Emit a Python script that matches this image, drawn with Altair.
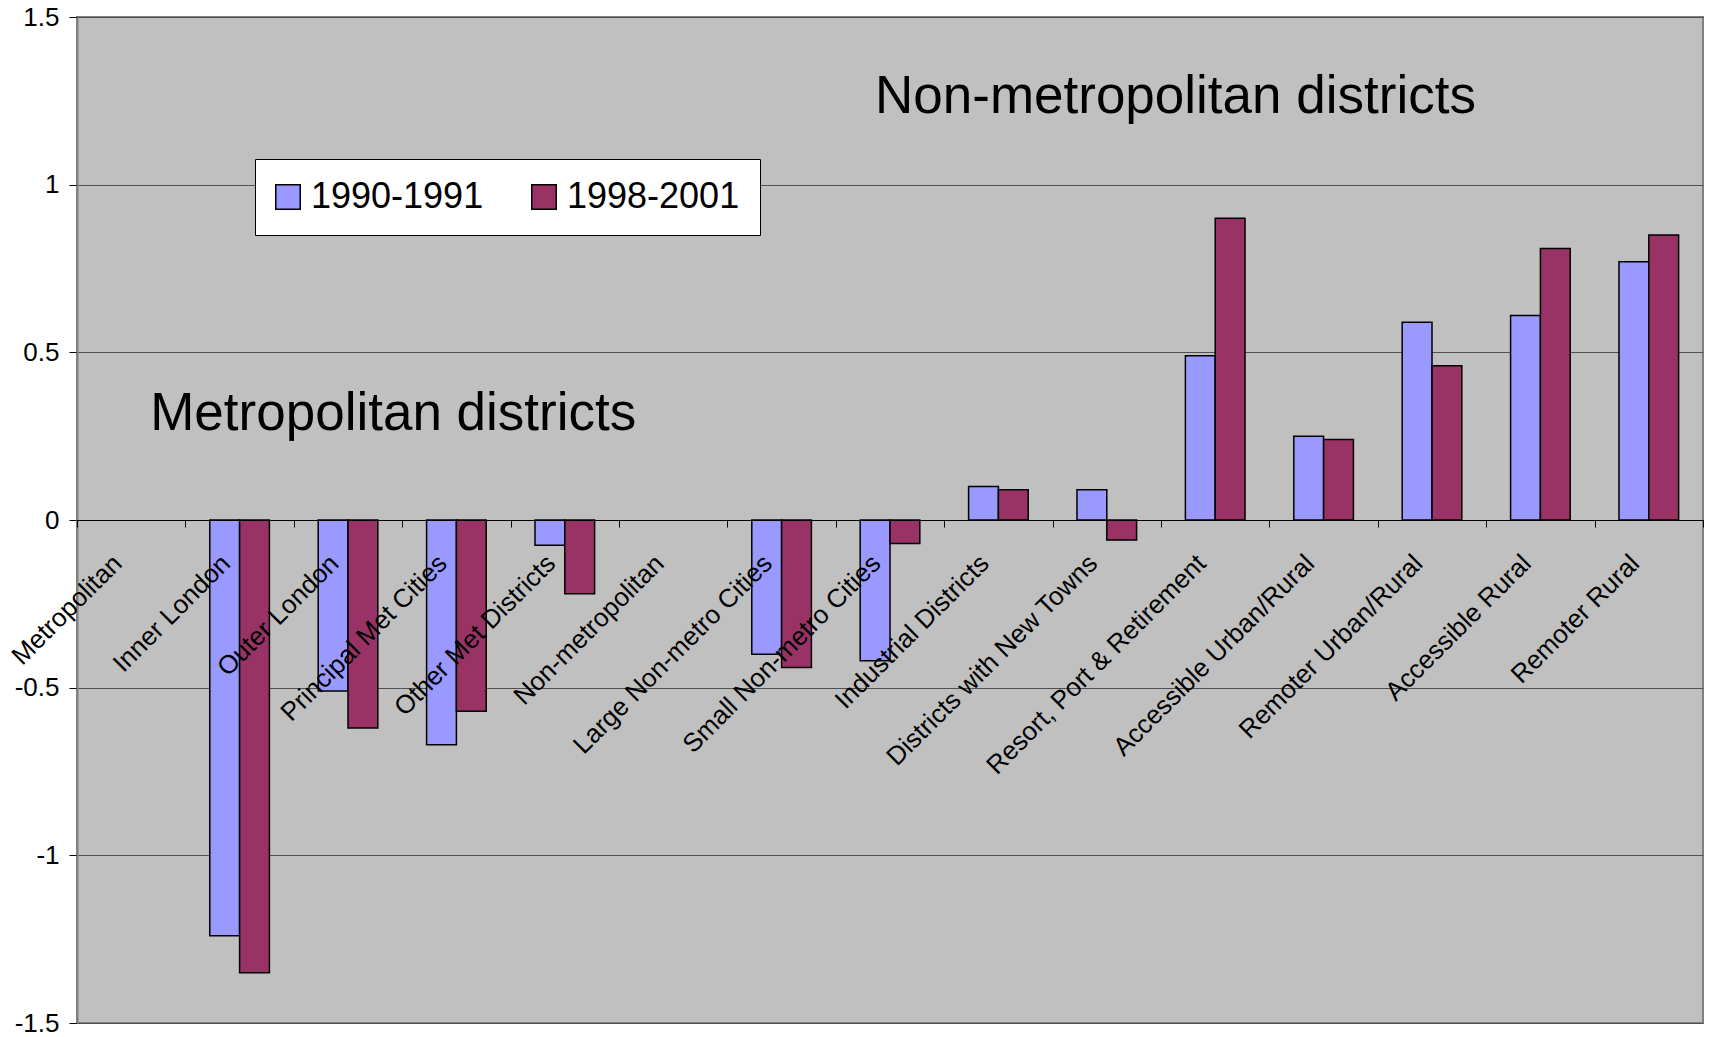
import altair as alt
import pandas as pd

categories = [
    "Metropolitan", "Inner London", "Outer London", "Principal Met Cities",
    "Other Met Districts", "Non-metropolitan", "Large Non-metro Cities",
    "Small Non-metro Cities", "Industrial Districts", "Districts with New Towns",
    "Resort, Port & Retirement", "Accessible Urban/Rural", "Remoter Urban/Rural",
    "Accessible Rural", "Remoter Rural",
]
series_names = ["1990-1991", "1998-2001"]
values_1990 = [None, -1.24, -0.51, -0.67, -0.075, None, -0.40, -0.42, 0.10, 0.09, 0.49, 0.25, 0.59, 0.61, 0.77]
values_1998 = [None, -1.35, -0.62, -0.57, -0.22, None, -0.44, -0.07, 0.09, -0.06, 0.90, 0.24, 0.46, 0.81, 0.85]
y_ticks = [-1.5, -1, -0.5, 0, 0.5, 1, 1.5]
colors = ["#9999FF", "#993366"]

annot_metro = ["Metropolitan districts"]
annot_metro_cat = ["Metropolitan"]
annot_metro_y = [0.267]
annot_non = ["Non-metropolitan districts"]
annot_non_cat = ["Small Non-metro Cities"]
annot_non_y = [1.214]

rows = []
for s, vals in zip(series_names, [values_1990, values_1998]):
    for c, v in zip(categories, vals):
        rows.append({"category": c, "series": s, "value": v})
df = pd.DataFrame(rows)

FONT = "Liberation Sans"
W, H = 1626, 1006

x_enc = alt.X(
    "category:N", sort=categories,
    scale=alt.Scale(domain=categories, paddingInner=0, paddingOuter=0),
    axis=alt.Axis(
        title=None, orient="bottom", offset=-H / 2, domainColor="black", domainWidth=1,
        tickColor="black", tickSize=7, tickBand="extent", labelAngle=-45,
        labelAlign="right", labelBaseline="middle", labelFontSize=26, labelFont=FONT,
        labelColor="black", labelPadding=32, labelOffset=-14, labelOverlap=False,
        labelBound=False, labelFlush=False, grid=False, zindex=1, labelLimit=0,
    ),
)

bars = alt.Chart(df).mark_bar(stroke="black", strokeWidth=1.5).encode(
    x=x_enc,
    xOffset=alt.XOffset("series:N", sort=series_names,
                        scale=alt.Scale(domain=series_names, paddingInner=0, paddingOuter=0.818)),
    y=alt.Y(
        "value:Q",
        scale=alt.Scale(domain=[-1.5, 1.5], nice=False),
        axis=alt.Axis(
            title=None, values=y_ticks, labelExpr="toString(datum.value)",
            domainColor="#808080", domainWidth=2, tickColor="black", tickSize=8,
            labelFontSize=26, labelFont=FONT, labelColor="black", labelPadding=10,
            gridColor="#505050", gridWidth=1,
        ),
    ),
    y2=alt.datum(0),
    color=alt.Color(
        "series:N",
        scale=alt.Scale(domain=series_names, range=colors),
        legend=alt.Legend(
            title=None, orient="none", legendX=178, legendY=142, direction="horizontal",
            fillColor="white", strokeColor="black", padding=20, symbolType="square",
            symbolSize=600, symbolStrokeColor="black", symbolStrokeWidth=1.5,
            symbolOffset=-5,
            labelFontSize=36, labelFont=FONT, labelColor="black", labelOffset=5,
            columnPadding=44, labelLimit=0,
        ),
    ),
)

t1 = alt.Chart(pd.DataFrame({"t": annot_metro, "c": annot_metro_cat, "y": annot_metro_y})).mark_text(
    align="left", baseline="alphabetic", fontSize=53, font=FONT, color="black", dx=19
).encode(x=alt.X("c:N", sort=categories), y=alt.Y("y:Q"), text="t:N")

t2 = alt.Chart(pd.DataFrame({"t": annot_non, "c": annot_non_cat, "y": annot_non_y})).mark_text(
    align="left", baseline="alphabetic", fontSize=53, font=FONT, color="black", dx=-15
).encode(x=alt.X("c:N", sort=categories), y=alt.Y("y:Q"), text="t:N")

chart = alt.layer(bars, t1, t2).properties(
    width=W, height=H,
    autosize=alt.AutoSizeParams(type="none"),
    padding={"left": 77, "top": 17, "right": 8, "bottom": 14},
    background="white",
).configure_view(fill="#C0C0C0", stroke="#808080", strokeWidth=2)

chart.save("out.html", embed_options={"renderer": "svg", "actions": False})
